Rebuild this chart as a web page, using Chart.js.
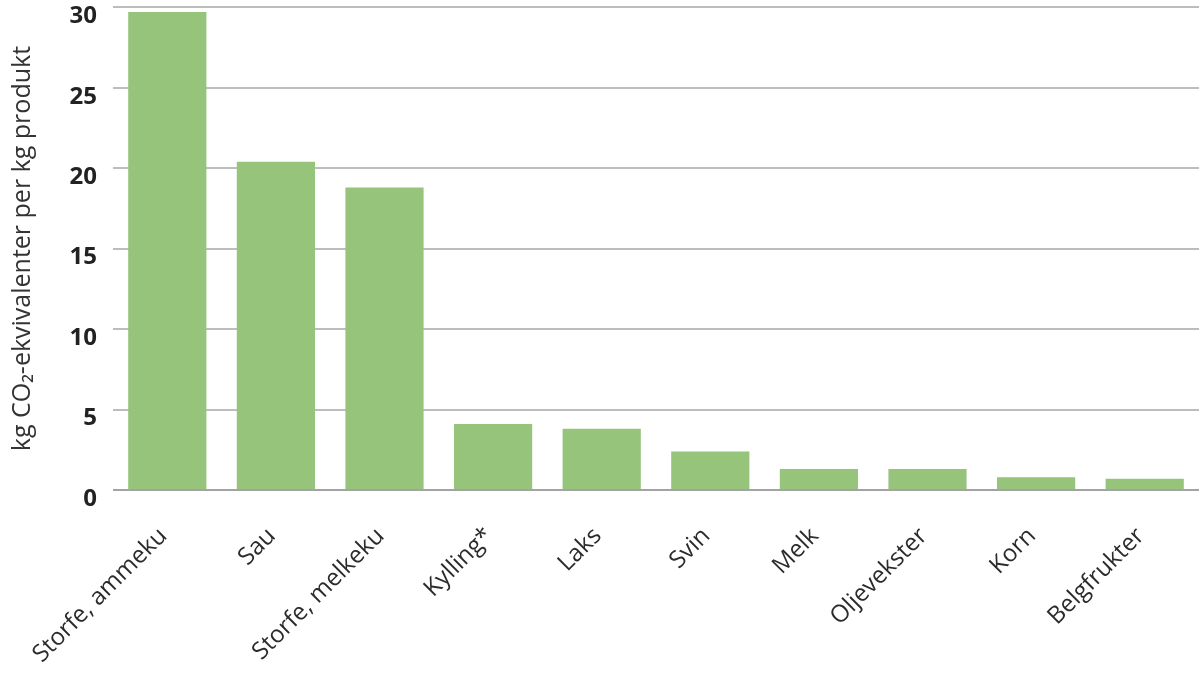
<!DOCTYPE html>
<html lang="no">
<head>
<meta charset="utf-8">
<title>Klimagassutslipp per kg produkt</title>
<script src="https://cdn.jsdelivr.net/npm/chart.js@4.4.1/dist/chart.umd.min.js"></script>
<style>
  html, body { margin: 0; padding: 0; background: #fff; }
  canvas { display: block; }
</style>
</head>
<body>
<canvas id="chart" width="1200" height="687"></canvas>
<script>
// kategorier og verdier (kg CO2-ekv. per kg produkt), lest av figuren
const categories = ['Storfe, ammeku', 'Sau', 'Storfe, melkeku', 'Kylling*', 'Laks', 'Svin', 'Melk', 'Oljevekster', 'Korn', 'Belgfrukter'];
const values = [29.7, 20.4, 18.8, 4.1, 3.8, 2.4, 1.3, 1.3, 0.8, 0.7];
const yTicks = [0, 5, 10, 15, 20, 25, 30];
const yTitle = 'kg CO\u2082-ekvivalenter per kg produkt';

const green = '#96c47b';
const font = "'Open Sans', 'Noto Sans', sans-serif";

function init(){
  const ctx = document.getElementById('chart').getContext('2d');
  new Chart(ctx, {
    type: 'bar',
    data: {
      labels: categories,
      datasets: [{ data: values, backgroundColor: green, borderWidth: 0, barPercentage: 0.72, categoryPercentage: 1 }]
    },
    options: {
      responsive: false,
      devicePixelRatio: 1,
      animation: false,
      layout: { padding: { top: 0, right: 1, bottom: 0, left: 0 } },
      plugins: { legend: { display: false }, tooltip: { enabled: false } },
      scales: {
        x: {
          grid: { display: false },
          border: { display: false },
          ticks: {
            minRotation: 45, maxRotation: 45, padding: 24, labelOffset: -4,
            color: '#2b2b2b',
            font: { family: font, size: 24 }
          },
          afterFit: s => { s.height = 197; }
        },
        y: {
          min: 0, max: 30,
          afterBuildTicks: s => { s.ticks = yTicks.map(v => ({ value: v })); },
          border: { display: false },
          // usynlige tick-streker gir luft mellom tall og rutenett
          grid: {
            drawTicks: true, tickLength: 16, tickColor: 'rgba(0,0,0,0)',
            lineWidth: 2,
            color: c => c.tick && c.tick.value === 0 ? '#a3a3a3' : '#bdbdbd'
          },
          ticks: {
            padding: 0, labelOffset: 9,
            color: '#222',
            font: { family: font, size: 24, weight: 'bold', lineHeight: 0.6 }
          },
          title: {
            display: true, text: yTitle, color: '#333',
            padding: { top: 8, bottom: 0 },
            font: { family: font, size: 25 }
          },
          afterFit: s => { s.width = 113; }
        }
      }
    }
  });
}
document.addEventListener('DOMContentLoaded', init);
</script>
</body>
</html>
